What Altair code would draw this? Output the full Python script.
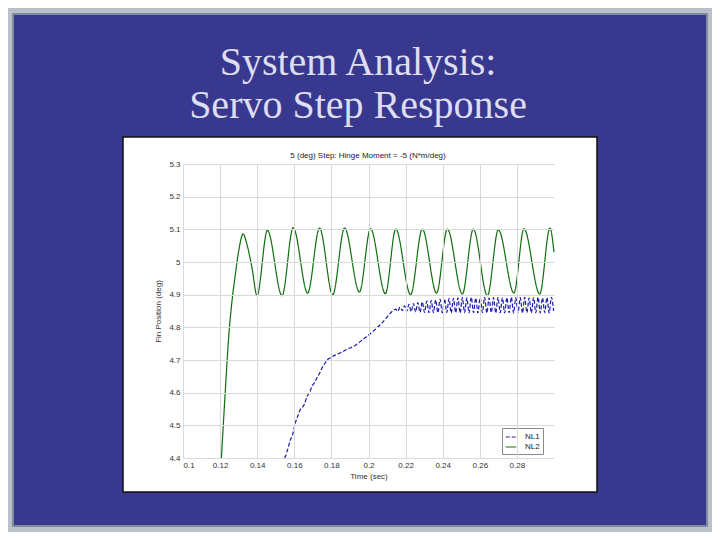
import altair as alt
import pandas as pd

# ---------------- data ----------------
slide_title = ["System Analysis:", "Servo Step Response"]
plot_title = ["5 (deg) Step: Hinge Moment = -5 (N*m/deg)"]
x_title = "Time (sec)"
y_title = "Fin Position (deg)"
series_names = ["NL1", "NL2"]

x_ticks = [0.1, 0.12, 0.14, 0.16, 0.18, 0.2, 0.22, 0.24, 0.26, 0.28]
y_ticks = [4.4, 4.5, 4.6, 4.7, 4.8, 4.9, 5.0, 5.1, 5.2, 5.3]

# NL2 (green, solid)
nl2_t = [0.1207, 0.1228, 0.1246, 0.1264, 0.1282, 0.1300, 0.1324, 0.1345, 0.1372, 0.1399,
         0.1455, 0.1534, 0.1594, 0.1672, 0.1736, 0.1807, 0.1871, 0.1951, 0.2011, 0.2091,
         0.2147, 0.2227, 0.2290, 0.2367, 0.2425, 0.2506, 0.2565, 0.2641, 0.2700, 0.2784,
         0.2838, 0.2923, 0.2978, 0.3000]
nl2_y = [4.400, 4.605, 4.768, 4.880, 4.961, 5.033, 5.086, 5.053, 4.982, 4.897,
         5.097, 4.897, 5.105, 4.905, 5.104, 4.900, 5.104, 4.908, 5.102, 4.903,
         5.101, 4.900, 5.101, 4.905, 5.101, 4.902, 5.101, 4.897, 5.099, 4.905,
         5.102, 4.902, 5.104, 5.030]

# NL1 (blue, dashed)
nl1_t = [0.1548, 0.1553, 0.1566, 0.1580, 0.1590, 0.1606, 0.1620, 0.1633, 0.1642, 0.1655,
         0.1669, 0.1682, 0.1696, 0.1710, 0.1723, 0.1737, 0.1750, 0.1763, 0.1777, 0.1795,
         0.1820, 0.1849, 0.1885, 0.1921, 0.1957, 0.1993, 0.2029, 0.2065, 0.2092, 0.2119,
         0.2135,
         0.2146, 0.2158, 0.2170, 0.2182, 0.2194, 0.2206, 0.2218, 0.2230, 0.2242, 0.2254,
         0.2266, 0.2278, 0.2290, 0.2302, 0.2314, 0.2326, 0.2338, 0.2350, 0.2362, 0.2374,
         0.2386, 0.2398, 0.2410, 0.2422, 0.2434, 0.2446, 0.2458, 0.2470, 0.2482, 0.2494,
         0.2506, 0.2518, 0.2530, 0.2542, 0.2554, 0.2566, 0.2578, 0.2590, 0.2602, 0.2614,
         0.2626, 0.2638, 0.2650, 0.2662, 0.2674, 0.2686, 0.2698, 0.2710, 0.2722, 0.2734,
         0.2746, 0.2758, 0.2770, 0.2782, 0.2794, 0.2806, 0.2818, 0.2830, 0.2842, 0.2854,
         0.2866, 0.2878, 0.2890, 0.2902, 0.2914, 0.2926, 0.2938, 0.2950, 0.2962, 0.2974,
         0.2986, 0.2998]
nl1_y = [4.400, 4.406, 4.430, 4.457, 4.470, 4.508, 4.530, 4.549, 4.554, 4.565,
         4.589, 4.600, 4.620, 4.632, 4.646, 4.660, 4.676, 4.688, 4.700, 4.707,
         4.715, 4.722, 4.733, 4.742, 4.757, 4.773, 4.790, 4.809, 4.826, 4.844,
         4.852,
         4.856, 4.849, 4.862, 4.851, 4.866, 4.849, 4.870, 4.848, 4.873, 4.847,
         4.876, 4.846, 4.878, 4.846, 4.880, 4.845, 4.882, 4.845, 4.884, 4.845,
         4.886, 4.844, 4.887, 4.845, 4.888, 4.844, 4.889, 4.845, 4.890, 4.844,
         4.891, 4.845, 4.890, 4.844, 4.892, 4.845, 4.890, 4.844, 4.891, 4.845,
         4.892, 4.844, 4.890, 4.845, 4.891, 4.844, 4.892, 4.845, 4.890, 4.844,
         4.891, 4.845, 4.892, 4.844, 4.890, 4.845, 4.891, 4.844, 4.892, 4.845,
         4.890, 4.844, 4.891, 4.845, 4.892, 4.844, 4.890, 4.845, 4.891, 4.844,
         4.892, 4.850]

df = pd.concat([
    pd.DataFrame({"t": nl1_t, "pos": nl1_y, "series": series_names[0]}),
    pd.DataFrame({"t": nl2_t, "pos": nl2_y, "series": series_names[1]}),
], ignore_index=True)

# ---------------- styling ----------------
W, H = 371, 294
BLUE_BG = "#38388f"
FONT = "Liberation Sans"

one = pd.DataFrame({"k": [0]})

slide_bg = alt.Chart(one).mark_rect(fill=BLUE_BG, stroke="#7f8aa0", strokeWidth=2).encode(
    x=alt.value(-170), x2=alt.value(524), y=alt.value(-150), y2=alt.value(362))

panel = alt.Chart(one).mark_rect(fill="white", stroke="#111111", strokeWidth=1.5).encode(
    x=alt.value(-60), x2=alt.value(414), y=alt.value(-27), y2=alt.value(328))

title_df = pd.DataFrame({"line": slide_title})
title1 = alt.Chart(title_df).transform_filter(alt.datum.line == slide_title[0]).mark_text(
    font="Liberation Serif", fontSize=40, color="#dedef2", align="center", baseline="alphabetic"
).encode(text="line:N", x=alt.value(175), y=alt.value(-89))
title2 = alt.Chart(title_df).transform_filter(alt.datum.line == slide_title[1]).mark_text(
    font="Liberation Serif", fontSize=40, color="#dedef2", align="center", baseline="alphabetic"
).encode(text="line:N", x=alt.value(175), y=alt.value(-46))

ptitle = alt.Chart(pd.DataFrame({"line": plot_title})).mark_text(
    font=FONT, fontSize=8, color="#222222", align="center", baseline="alphabetic"
).encode(text="line:N", x=alt.value(185), y=alt.value(-6))

lines = alt.Chart(df).mark_line(strokeWidth=1.2, interpolate="monotone").encode(
    x=alt.X("t:Q", scale=alt.Scale(domain=[0.1, 0.3], nice=False, zero=False),
            axis=alt.Axis(values=x_ticks, format="~g", title=x_title, zindex=1)),
    y=alt.Y("pos:Q", scale=alt.Scale(domain=[4.4, 5.3], nice=False, zero=False),
            axis=alt.Axis(values=y_ticks, format="~g", title=y_title, zindex=1)),
    color=alt.Color("series:N", scale=alt.Scale(domain=series_names, range=["#1c1ca8", "#0d700d"]),
                    legend=alt.Legend(title=None, orient="none", legendX=319, legendY=264)),
    strokeDash=alt.StrokeDash("series:N", scale=alt.Scale(domain=series_names, range=[[4, 2], [1, 0]]),
                              legend=alt.Legend(title=None, orient="none", legendX=319, legendY=264)),
    order="t:Q",
)

chart = alt.layer(slide_bg, panel, title1, title2, ptitle, lines).properties(
    width=W, height=H,
    autosize=alt.AutoSizeParams(type="none"),
    padding={"left": 175, "top": 156, "right": 158, "bottom": 74},
    background="#b9c0c8",
).configure_view(stroke="#9a9a9a", strokeWidth=1).configure_axis(
    grid=True, gridColor="#d9d9d9", gridWidth=1, domain=False, ticks=False,
    labelFont=FONT, labelFontSize=8, labelColor="#333333", labelPadding=3,
    titleFont=FONT, titleFontSize=8, titleFontWeight="normal", titleColor="#333333",
).configure_axisY(titlePadding=6).configure_axisX(titlePadding=3).configure_legend(
    fillColor="white", strokeColor="#8a8a8a", padding=3, labelFont=FONT, labelFontSize=8,
    labelColor="#222222", symbolType="stroke", symbolStrokeWidth=1.2, symbolSize=110,
    rowPadding=0, labelOffset=8, cornerRadius=0, labelLimit=60,
)

chart.save("out.html", embed_options={"renderer": "svg", "actions": False})
